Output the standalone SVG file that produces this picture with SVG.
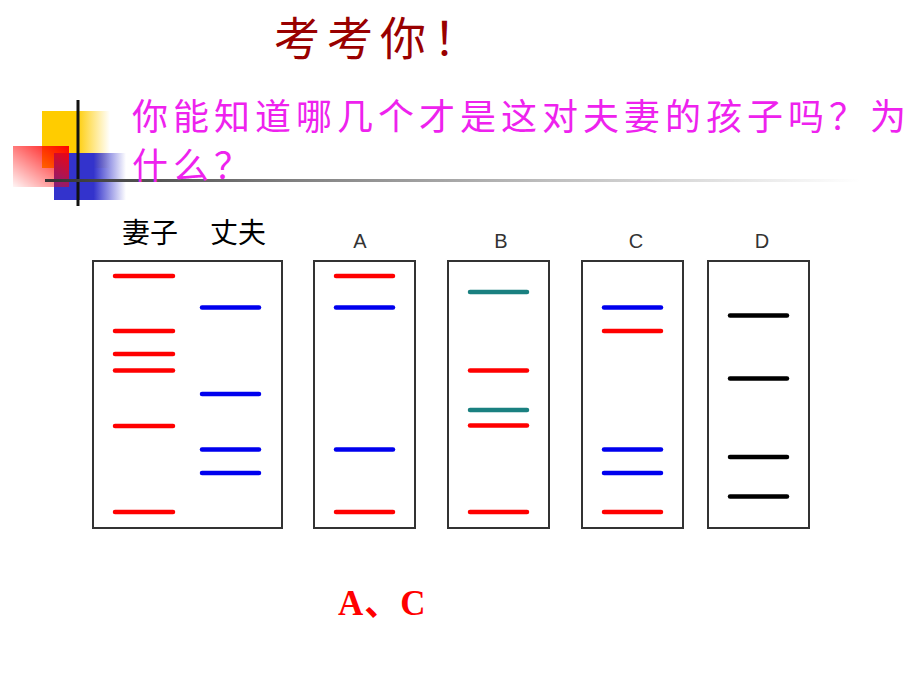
<svg xmlns="http://www.w3.org/2000/svg" width="920" height="690" viewBox="0 0 920 690">
<defs>
<linearGradient id="gy" x1="0" y1="0" x2="1" y2="0"><stop offset="0" stop-color="#FFCC00"/><stop offset="0.5" stop-color="#FFCC00"/><stop offset="1" stop-color="#FFCC00" stop-opacity="0"/></linearGradient>
<linearGradient id="gb" x1="0" y1="0" x2="1" y2="0"><stop offset="0" stop-color="#3333CC"/><stop offset="0.55" stop-color="#3333CC"/><stop offset="1" stop-color="#3333CC" stop-opacity="0"/></linearGradient>
<linearGradient id="gr" x1="1" y1="0" x2="0" y2="1"><stop offset="0" stop-color="#FF0000"/><stop offset="1" stop-color="#FF0000" stop-opacity="0.04"/></linearGradient>
<linearGradient id="gl" x1="0" y1="0" x2="1" y2="0"><stop offset="0" stop-color="#333333"/><stop offset="0.3" stop-color="#808080"/><stop offset="0.6" stop-color="#BBBBBB"/><stop offset="1" stop-color="#FFFFFF"/></linearGradient>
<style>
.gel{fill:#fff;stroke:#333;stroke-width:2}
.band{stroke-width:4.5;stroke-linecap:round;fill:none}
.r{stroke:#FF0000}.b{stroke:#0000EE}.t{stroke:#1A8080}.k{stroke:#000}
.lab{font-family:"Liberation Sans",Arial,sans-serif;font-size:20px;fill:#333;text-anchor:middle}
.cjk{font-family:"Noto Sans CJK SC",sans-serif}
</style>
</defs>
<rect width="920" height="690" fill="#fff"/>
<g id="decoration">
<rect x="42" y="111" width="68" height="57" fill="url(#gy)"/>
<rect x="54" y="153" width="72" height="47" fill="url(#gb)"/>
<rect x="13" y="146" width="56" height="41" fill="url(#gr)"/>
<line x1="78" y1="100" x2="78" y2="206" stroke="#111" stroke-width="3"/>
<rect x="45" y="179" width="815" height="3" fill="url(#gl)"/>
</g>
<g id="title"><text x="274" y="55" class="cjk" font-size="46" letter-spacing="7" fill="#990000">考考你！</text></g>
<g id="question" fill="#EE22EE" class="cjk" font-size="36" letter-spacing="5">
<text x="132" y="130">你能知道哪几个才是这对夫妻的孩子吗？为</text>
<text x="132" y="179">什么？</text>
</g>
<g id="parents">
<rect class="gel" x="93" y="261" width="189" height="267"/>
<text x="122" y="243" class="cjk" font-size="28" fill="#000">妻子</text>
<text x="210" y="243" class="cjk" font-size="28" fill="#000">丈夫</text>
<g class="band r"><line x1="115" y1="276" x2="173" y2="276"/><line x1="115" y1="331" x2="173" y2="331"/><line x1="115" y1="354" x2="173" y2="354"/><line x1="115" y1="370.5" x2="173" y2="370.5"/><line x1="115" y1="426" x2="173" y2="426"/><line x1="115" y1="512" x2="173" y2="512"/></g>
<g class="band b"><line x1="202" y1="307.5" x2="259" y2="307.5"/><line x1="202" y1="394" x2="259" y2="394"/><line x1="202" y1="449.5" x2="259" y2="449.5"/><line x1="202" y1="473" x2="259" y2="473"/></g>
</g>
<g id="A">
<text x="360" y="248" class="lab">A</text>
<rect class="gel" x="314" y="261" width="101" height="267"/>
<line class="band r" x1="336" y1="276" x2="393" y2="276"/>
<line class="band b" x1="336" y1="307.5" x2="393" y2="307.5"/>
<line class="band b" x1="336" y1="449.5" x2="393" y2="449.5"/>
<line class="band r" x1="336" y1="512" x2="393" y2="512"/>
</g>
<g id="B">
<text x="501" y="248" class="lab">B</text>
<rect class="gel" x="448" y="261" width="101" height="267"/>
<line class="band t" x1="470" y1="292" x2="527" y2="292"/>
<line class="band r" x1="470" y1="370.5" x2="527" y2="370.5"/>
<line class="band t" x1="470" y1="410" x2="527" y2="410"/>
<line class="band r" x1="470" y1="425.5" x2="527" y2="425.5"/>
<line class="band r" x1="470" y1="512" x2="527" y2="512"/>
</g>
<g id="C">
<text x="636" y="248" class="lab">C</text>
<rect class="gel" x="582" y="261" width="101" height="267"/>
<line class="band b" x1="604" y1="307.5" x2="661" y2="307.5"/>
<line class="band r" x1="604" y1="331" x2="661" y2="331"/>
<line class="band b" x1="604" y1="449.5" x2="661" y2="449.5"/>
<line class="band b" x1="604" y1="473" x2="661" y2="473"/>
<line class="band r" x1="604" y1="512" x2="661" y2="512"/>
</g>
<g id="D">
<text x="762" y="248" class="lab">D</text>
<rect class="gel" x="708" y="261" width="101" height="267"/>
<line class="band k" x1="730" y1="315.5" x2="787" y2="315.5"/>
<line class="band k" x1="730" y1="378.5" x2="787" y2="378.5"/>
<line class="band k" x1="730" y1="457" x2="787" y2="457"/>
<line class="band k" x1="730" y1="496.5" x2="787" y2="496.5"/>
</g>
<g id="answer"><text x="338" y="615" font-family="'Liberation Serif','Noto Sans CJK SC',serif" font-weight="bold" font-size="35" letter-spacing="1" fill="#FF0000">A、C</text></g>
</svg>
